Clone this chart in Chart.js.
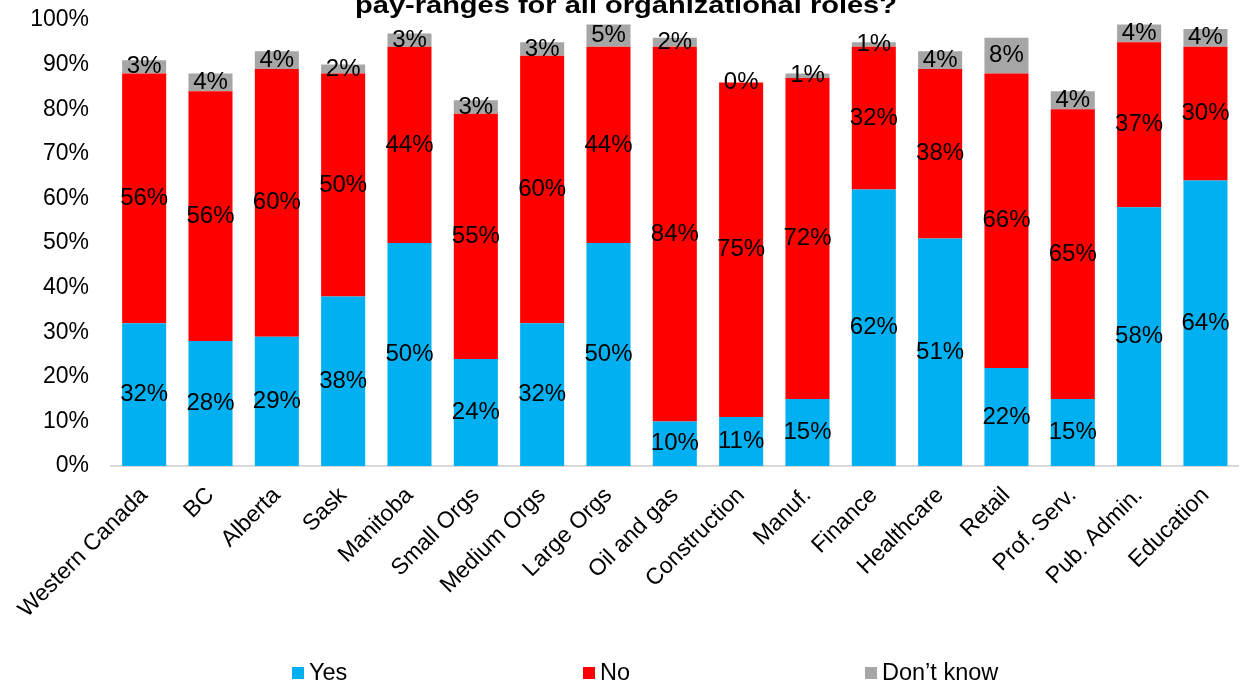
<!DOCTYPE html>
<html lang="en">
    <head>
        <meta charset="UTF-8">
        <title>Pay ranges by region, size and sector</title>
        <script src="https://cdn.jsdelivr.net/npm/chart.js@4.4.0/dist/chart.umd.min.js"></script>
        <style>
            body { margin: 0; background: #fff; font-family: "Liberation Sans", Arial, sans-serif; }
            .wrap { position: relative; width: 1241px; height: 685px; }
            .legend span { position: absolute; top: 659px; display: flex; align-items: center; font-size: 23.5px; color: #000; white-space: nowrap; }
            .legend span:nth-child(1) { left: 292px; }
            .legend span:nth-child(2) { left: 583px; }
            .legend span:nth-child(3) { left: 865px; }
            .legend i { display: inline-block; width: 12px; height: 12px; margin-right: 5px; }
        </style>
    </head>
    <body>
        <script>
            const categories = ["Western Canada", "BC", "Alberta", "Sask", "Manitoba", "Small Orgs",
                "Medium Orgs", "Large Orgs", "Oil and gas", "Construction", "Manuf.", "Finance",
                "Healthcare", "Retail", "Prof. Serv.", "Pub. Admin.", "Education"];
            const yesValues = [32, 28, 29, 38, 50, 24, 32, 50, 10, 11, 15, 62, 51, 22, 15, 58, 64];
            const noValues = [56, 56, 60, 50, 44, 55, 60, 44, 84, 75, 72, 32, 38, 66, 65, 37, 30];
            const dontKnowValues = [3, 4, 4, 2, 3, 3, 3, 5, 2, 0, 1, 1, 4, 8, 4, 4, 4];
            const seriesNames = ["Yes", "No", "Don\u2019t know"];
            const seriesColors = ["#00B0F0", "#FF0000", "#A6A6A6"];
            const yTicks = [0, 10, 20, 30, 40, 50, 60, 70, 80, 90, 100];
            const titleText = "pay-ranges for all organizational roles?";
        </script>
        <div class="wrap">
            <canvas id="payChart" width="1241" height="685"></canvas>
            <div class="legend" id="legend"></div>
        </div>
        <script>
            const FONT = "'Liberation Sans', Arial, sans-serif";

            // percentage label in the middle of every stacked segment
            const segmentLabels = {
                id: 'segmentLabels',
                afterDatasetsDraw(chart) {
                    const ctx = chart.ctx;
                    ctx.save();
                    ctx.font = '24px ' + FONT;
                    ctx.fillStyle = '#000';
                    ctx.textAlign = 'center';
                    ctx.textBaseline = 'middle';
                    chart.data.datasets.forEach((ds, i) => {
                        chart.getDatasetMeta(i).data.forEach((bar, j) => {
                            const p = bar.getProps(['x', 'y', 'base'], true);
                            ctx.fillText(ds.data[j] + '%', p.x, (p.y + p.base) / 2);
                        });
                    });
                    ctx.restore();
                }
            };

            // second line of the heading; the first one runs off the top edge
            const headline = {
                id: 'headline',
                afterDraw(chart) {
                    const ctx = chart.ctx;
                    ctx.save();
                    ctx.font = 'bold 24px ' + FONT;
                    ctx.fillStyle = '#000';
                    ctx.textAlign = 'center';
                    ctx.textBaseline = 'alphabetic';
                    const w = ctx.measureText(titleText).width;
                    ctx.translate(626, 13);
                    ctx.scale(542 / w, 1);   // heading is set wide
                    ctx.fillText(titleText, 0, 0);
                    ctx.restore();
                }
            };

            const datasets = [yesValues, noValues, dontKnowValues].map((vals, i) => ({
                label: seriesNames[i],
                data: vals,
                backgroundColor: seriesColors[i],
                borderWidth: 0,
                categoryPercentage: 1,
                barPercentage: 0.664
            }));

            new Chart(document.getElementById('payChart'), {
                type: 'bar',
                data: { labels: categories, datasets: datasets },
                options: {
                    responsive: false,
                    animation: false,
                    layout: { padding: { top: 20, right: 1, bottom: 69, left: 0 } },
                    plugins: {
                        legend: { display: false },
                        tooltip: { enabled: false }
                    },
                    scales: {
                        x: {
                            stacked: true,
                            grid: { display: false, drawTicks: false },
                            border: { display: true, color: '#D9D9D9', width: 2 },
                            ticks: {
                                color: '#000',
                                font: { family: FONT, size: 23 },
                                minRotation: 45,
                                maxRotation: 45,
                                padding: 16,
                                autoSkip: false
                            },
                            afterFit(scale) { scale.height = 150; }
                        },
                        y: {
                            stacked: true,
                            min: 0,
                            max: 100,
                            grid: { display: false, drawTicks: false },
                            border: { display: false },
                            afterBuildTicks(scale) { scale.ticks = yTicks.map(v => ({ value: v })); },
                            ticks: {
                                color: '#000',
                                font: { family: FONT, size: 23 },
                                padding: 22,
                                callback: v => v + '%'
                            },
                            afterFit(scale) {
                                // fixed gutter; label padding should not push the plot down
                                scale.width = 111;
                                scale.paddingTop = 0;
                                scale.paddingBottom = 0;
                            }
                        }
                    }
                },
                plugins: [segmentLabels, headline]
            });

            const legend = document.getElementById('legend');
            seriesNames.forEach((name, i) => {
                const item = document.createElement('span');
                const box = document.createElement('i');
                box.style.background = seriesColors[i];
                item.appendChild(box);
                item.appendChild(document.createTextNode(name));
                legend.appendChild(item);
            });
        </script>
    </body>
</html>
